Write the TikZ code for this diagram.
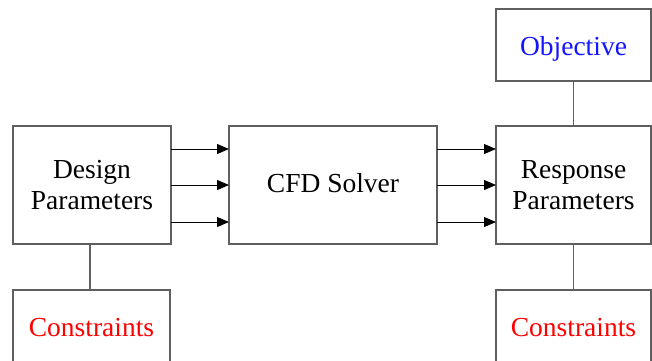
\documentclass[tikz,border=0pt]{standalone}
\usepackage{fontspec}
\setmainfont{Liberation Serif}
\usetikzlibrary{arrows.meta}
\definecolor{boxgray}{RGB}{95,95,95}
\definecolor{objblue}{RGB}{20,20,255}
\definecolor{conred}{RGB}{255,0,0}
\begin{document}
\begin{tikzpicture}[x=1pt,y=-1pt,
  box/.style={draw=boxgray, line width=1.3pt, fill=white, inner sep=0pt, outer sep=0pt,
    align=center, font=\fontsize{27.5}{31}\selectfont},
  link/.style={draw=boxgray, line width=1.2pt},
  arr/.style={draw=black, line width=1pt, -{Triangle[length=12pt,width=10pt]}}]
\useasboundingbox (0,0) rectangle (652,360);
\clip (0,0) rectangle (652,360);
\node[box, minimum width=158pt, minimum height=118pt] (d) at (92,185) {Design\\Parameters};
\node[box, minimum width=208pt, minimum height=118pt, text height=19pt, text depth=4pt] (c) at (333,185) {CFD Solver};
\node[box, minimum width=155pt, minimum height=118pt] (r) at (573.5,185) {Response\\Parameters};
\node[box, minimum width=155pt, minimum height=72pt, text=objblue, text height=20pt, text depth=0pt] (o) at (573.5,45) {Objective};
\node[box, minimum width=157pt, minimum height=76pt, text=conred] (cl) at (91.5,328) {Constraints};
\node[box, minimum width=155pt, minimum height=76pt, text=conred] (cr) at (573.5,328) {Constraints};
\draw[link] (o.south) -- (r.north);
\draw[link] ([xshift=-2pt]d.south) -- ([xshift=-1.5pt]cl.north);
\draw[link] (r.south) -- (cr.north);
\foreach \s in {36,0,-37} {
  \draw[arr] ([yshift=\s pt]d.east) -- ([yshift=\s pt]c.west);
  \draw[arr] ([yshift=\s pt]c.east) -- ([yshift=\s pt]r.west);
}
\end{tikzpicture}
\end{document}
